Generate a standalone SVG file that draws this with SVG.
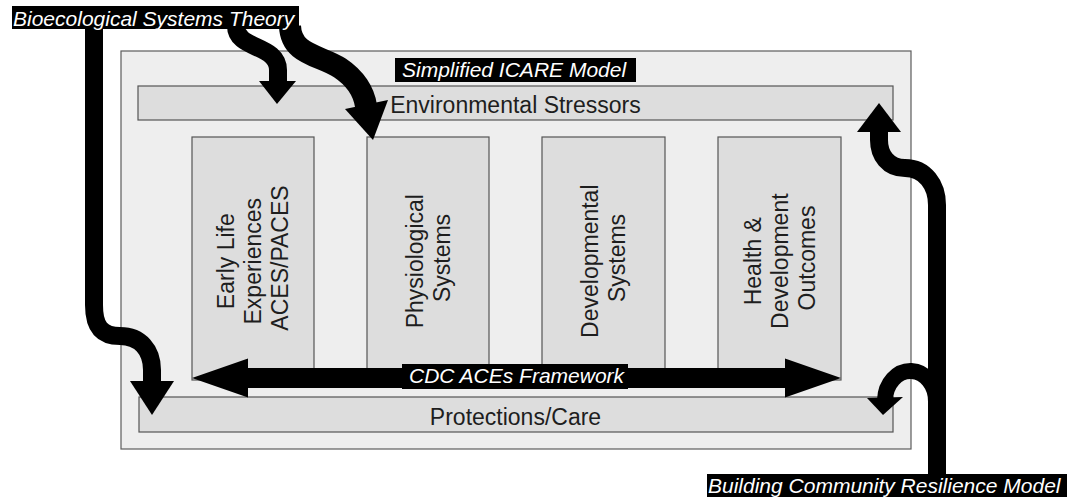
<svg xmlns="http://www.w3.org/2000/svg" width="1075" height="498" viewBox="0 0 1075 498">
  <style>
    .frame { fill: #eeeeee; stroke: #5c5c5c; stroke-width: 1.2; }
    .bar { fill: #dddddd; stroke: #555555; stroke-width: 1.2; }
    .col { fill: #dddddd; stroke: #555555; stroke-width: 1.2; }
    .body { font-family: "Liberation Sans", Arial, sans-serif; font-size: 23px; fill: #1e1e1e; }
    .tag { fill: #000000; }
    .tagtext { font-family: "Liberation Sans", Arial, sans-serif; font-size: 21px; font-style: italic; fill: #ffffff; }
    .flow { fill: none; stroke: #000000; stroke-linecap: butt; stroke-linejoin: round; }
    .head { fill: #000000; }
  </style>

  <!-- background -->
  <rect width="1075" height="498" fill="#ffffff"/>

  <!-- model frame -->
  <g id="icare-model">
    <rect class="frame" x="121" y="51" width="790" height="398"/>
  </g>

  <g id="environmental-stressors">
    <rect class="bar" x="138" y="86" width="755" height="34"/>
    <text class="body" x="515.5" y="113" text-anchor="middle">Environmental Stressors</text>
  </g>

  <g id="protections-care">
    <rect class="bar" x="139" y="397" width="754" height="35"/>
    <text class="body" x="515.5" y="425" text-anchor="middle">Protections/Care</text>
  </g>

  <g id="early-life-experiences">
    <rect class="col" x="192" y="137" width="122" height="243"/>
    <text class="body" transform="translate(253 258) rotate(-90)" text-anchor="middle">
      <tspan x="0" y="-18.8">Early Life</tspan>
      <tspan x="0" y="8.2">Experiences</tspan>
      <tspan x="0" y="35.2">ACES/PACES</tspan>
    </text>
  </g>

  <g id="physiological-systems">
    <rect class="col" x="367" y="137" width="122" height="243"/>
    <text class="body" transform="translate(428 258) rotate(-90)" text-anchor="middle">
      <tspan x="0" y="-5.3">Physiological</tspan>
      <tspan x="0" y="21.7">Systems</tspan>
    </text>
  </g>

  <g id="developmental-systems">
    <rect class="col" x="542" y="137" width="123" height="243"/>
    <text class="body" transform="translate(603.5 258) rotate(-90)" text-anchor="middle">
      <tspan x="0" y="-5.3">Developmental</tspan>
      <tspan x="0" y="21.7">Systems</tspan>
    </text>
  </g>

  <g id="health-development-outcomes">
    <rect class="col" x="718" y="137" width="123" height="243"/>
    <text class="body" transform="translate(779.5 258) rotate(-90)" text-anchor="middle">
      <tspan x="0" y="-18.8">Health &amp;</tspan>
      <tspan x="0" y="8.2">Development</tspan>
      <tspan x="0" y="35.2">Outcomes</tspan>
    </text>
  </g>

  <!-- connectors -->
  <g id="connectors">
    <!-- CDC ACEs Framework: double-headed arrow across the columns -->
    <polygon class="head" points="192,378 248,358.5 248,368 785,368 785,358.5 841,378 785,397.5 785,388 248,388 248,397.5"/>

    <!-- Bioecological theory: long arrow down to Protections/Care -->
    <path class="flow" stroke-width="18" d="M94,26 V305 C94,326 101,336 120,336 C140,336 152,350 152,370 V382"/>
    <polygon class="head" points="130,381 174,381 152,415"/>

    <!-- Bioecological theory: short arrow into Environmental Stressors -->
    <path class="flow" stroke-width="18" d="M236,26 C236,50 278,44 278,70 V82"/>
    <polygon class="head" points="259,81 296,81 277,104"/>

    <!-- Bioecological theory: arrow into Physiological Systems -->
    <path class="flow" stroke-width="22" d="M290,26 C291,55 320,55 340,68 C355,78 364,92 366,106"/>
    <polygon class="head" points="345,109 388,100 373,140"/>

    <!-- Community resilience: arrow up to Environmental Stressors -->
    <path class="flow" stroke-width="18" d="M937,476 V205 C937,185 925,168 905,168 C888,168 879,155 879,140 V132"/>
    <polygon class="head" points="857,132 901,132 879,103"/>

    <!-- Community resilience: hook into Protections/Care -->
    <path class="flow" stroke-width="16" d="M936,402 A25.5,30 0 0 0 885,400"/>
    <polygon class="head" points="867,398 903,397 883,415"/>
  </g>

  <!-- framework labels -->
  <g id="label-cdc-aces">
    <rect class="tag" x="402" y="364" width="226" height="25"/>
    <text class="tagtext" x="409" y="382.5">CDC ACEs Framework</text>
  </g>

  <g id="label-icare">
    <rect class="tag" x="395" y="58" width="241" height="24"/>
    <text class="tagtext" x="402" y="77">Simplified ICARE Model</text>
  </g>

  <g id="label-bioecological">
    <rect class="tag" x="12" y="6" width="287" height="23"/>
    <text class="tagtext" x="13" y="26">Bioecological Systems Theory</text>
  </g>

  <g id="label-community-resilience">
    <rect class="tag" x="707" y="474" width="360" height="23"/>
    <text class="tagtext" x="708" y="493">Building Community Resilience Model</text>
  </g>
</svg>
